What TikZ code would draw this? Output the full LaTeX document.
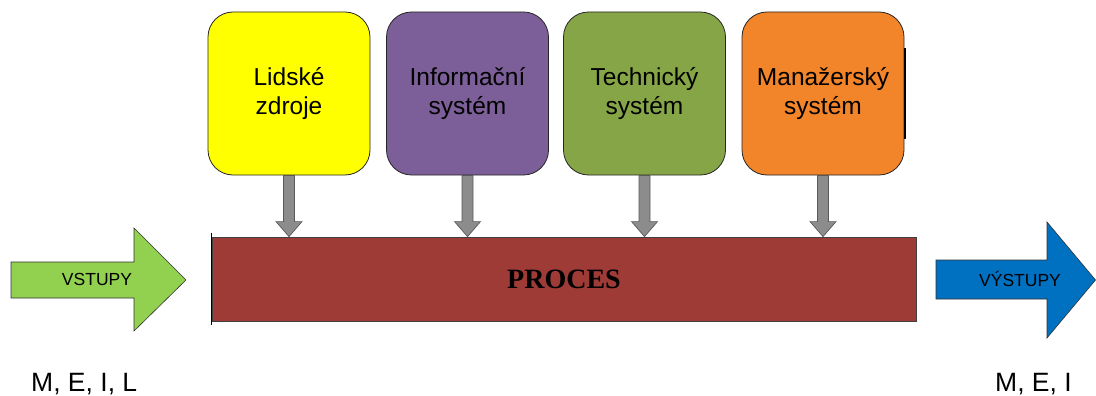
\documentclass[tikz,border=0pt]{standalone}
\usepackage{fontspec}
\setmainfont{Liberation Sans}
\newfontfamily\procfont{Liberation Serif}
\definecolor{cYellow}{HTML}{FFFF00}
\definecolor{cPurple}{HTML}{7C5E98}
\definecolor{cGreen}{HTML}{86A546}
\definecolor{cOrange}{HTML}{F2842A}
\definecolor{cProc}{HTML}{9E3B37}
\definecolor{cIn}{HTML}{92D050}
\definecolor{cOut}{HTML}{0070C0}
\definecolor{cFeed}{HTML}{8C8C8C}
\begin{document}
\begin{tikzpicture}[x=1pt,y=-1pt,
  sysbox/.style={draw=black!85, line width=0.8pt, rounded corners=25pt,
    minimum width=162pt, minimum height=163pt, inner sep=0pt,
    align=center, font=\fontsize{24.5}{29}\selectfont},
  feed/.style={fill=cFeed, draw=black!65, line width=0.7pt},
  bigarrow/.style={draw=black!80, line width=0.6pt},
  arrowtext/.style={font=\fontsize{17.5}{20}\selectfont, inner sep=0pt},
  flowtext/.style={font=\fontsize{26.5}{30}\selectfont, inner sep=0pt, anchor=base west}]
\useasboundingbox (0,0) rectangle (1096,396);

% the four supporting systems
\node[sysbox, fill=cYellow] (b1) at (289,93.5) {Lidské\\zdroje};
\node[sysbox, fill=cPurple] (b2) at (467.5,93.5) {Informační\\systém};
\node[sysbox, fill=cGreen]  (b3) at (644.5,93.5) {Technický\\systém};
\node[sysbox, fill=cOrange] (b4) at (823,93.5) {Manažerský\\systém};
\draw[line width=1.6pt] ([xshift=0.6pt,yshift=45pt]b4.east) -- ([xshift=0.6pt,yshift=-45pt]b4.east);

% the process bar
\node[draw=black!75, line width=0.8pt, fill=cProc, minimum width=704pt, minimum height=84pt,
  inner sep=0pt, font=\procfont\bfseries\fontsize{28}{30}\selectfont] (p) at (564,279) {PROCES};
\draw[line width=0.8pt] ([yshift=4pt]p.north west) -- ([yshift=-4pt]p.south west);

% feeds from each system into the process
\foreach \b in {b1,b2,b3,b4}{
  \coordinate (tip) at (\b.south |- p.north);
  \filldraw[feed] ([xshift=-5.5pt]\b.south) -- ([xshift=-5.5pt,yshift=15pt]tip)
    -- ([xshift=-13pt,yshift=15pt]tip) -- (tip) -- ([xshift=13pt,yshift=15pt]tip)
    -- ([xshift=5.5pt,yshift=15pt]tip) -- ([xshift=5.5pt]\b.south) -- cycle;
}

% inputs
\filldraw[bigarrow, fill=cIn] (11,262) -- (134,262) -- (134,228) -- (186,280)
  -- (134,331) -- (134,298) -- (11,298) -- cycle;
\node[arrowtext] (vin) at (97,279) {VSTUPY};
\node[flowtext] (min) at (31,391) {M, E, I, L};

% outputs
\filldraw[bigarrow, fill=cOut] (936,260) -- (1047,260) -- (1047,222) -- (1095.5,280)
  -- (1047,338) -- (1047,299) -- (936,299) -- cycle;
\node[arrowtext] (vout) at (1020,279) {VÝSTUPY};
\node[flowtext] (mout) at (995,391) {M, E, I};
\end{tikzpicture}
\end{document}
